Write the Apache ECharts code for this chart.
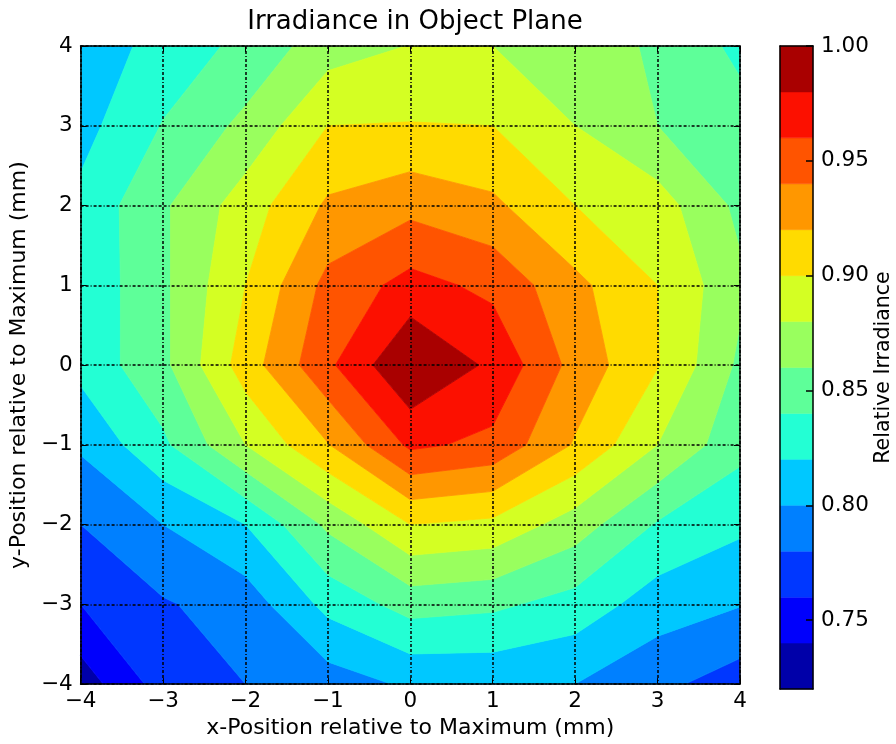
<!DOCTYPE html>
<html>
<head>
<meta charset="utf-8">
<script src="https://cdn.jsdelivr.net/npm/echarts@6/dist/echarts.min.js"></script>
<style>
html,body{margin:0;padding:0;background:#fff;}
#chart{width:896px;height:744px;}
</style>
</head>
<body>
<div id="chart"></div>
<script>
// ---- data ----
const X_VALUES = [-4, -3, -2, -1, 0, 1, 2, 3, 4];
const Y_VALUES = [4, 3, 2, 1, 0, -1, -2, -3, -4];
// relative irradiance, one row per y value (x from -4 to 4)
const Z_Y4  = [0.806, 0.828, 0.845, 0.871, 0.8805, 0.880, 0.870, 0.857, 0.835];
const Z_Y3  = [0.813, 0.841, 0.865, 0.900, 0.901, 0.900, 0.880, 0.860, 0.848];
const Z_Y2  = [0.825, 0.857, 0.890, 0.923, 0.934, 0.924, 0.900, 0.889, 0.855];
const Z_Y1  = [0.825, 0.856, 0.900, 0.946, 0.967, 0.955, 0.925, 0.900, 0.864];
const Z_Y0  = [0.826, 0.855, 0.910, 0.956, 1.000, 0.976, 0.933, 0.901, 0.856];
const Z_YM1 = [0.803, 0.836, 0.880, 0.919, 0.964, 0.955, 0.918, 0.880, 0.846];
const Z_YM2 = [0.780, 0.800, 0.820, 0.864, 0.900, 0.895, 0.870, 0.838, 0.824];
const Z_YM3 = [0.760, 0.778, 0.789, 0.826, 0.848, 0.844, 0.832, 0.810, 0.801];
const Z_YM4 = [0.729, 0.769, 0.780, 0.790, 0.803, 0.804, 0.800, 0.785, 0.770];
const LEVELS = [0.72, 0.74, 0.76, 0.78, 0.80, 0.82, 0.84, 0.86, 0.88, 0.90, 0.92, 0.94, 0.96, 0.98, 1.00];
const CBAR_TICKS = [0.75, 0.80, 0.85, 0.90, 0.95, 1.00];

const Z_ROWS = [Z_Y4, Z_Y3, Z_Y2, Z_Y1, Z_Y0, Z_YM1, Z_YM2, Z_YM3, Z_YM4];

// ---- jet colormap ----
function interp(pts, t) {
  for (let i = 1; i < pts.length; i++) {
    if (t <= pts[i][0]) {
      const a = pts[i - 1], b = pts[i];
      return a[1] + (b[1] - a[1]) * (t - a[0]) / (b[0] - a[0]);
    }
  }
  return pts[pts.length - 1][1];
}
function jet(t) {
  const r = interp([[0,0],[0.35,0],[0.66,1],[0.89,1],[1,0.5]], t);
  const g = interp([[0,0],[0.125,0],[0.375,1],[0.64,1],[0.91,0],[1,0]], t);
  const b = interp([[0,0.5],[0.11,1],[0.34,1],[0.65,0],[1,0]], t);
  const h = v => Math.round(Math.max(0, Math.min(1, v)) * 255).toString(16).padStart(2, '0');
  return '#' + h(r) + h(g) + h(b);
}
const NB = LEVELS.length - 1;
const BAND_COLORS = [];
for (let k = 0; k < NB; k++) BAND_COLORS.push(jet((k + 0.5) / NB));

// ---- cells of the grid ----
const cells = [];
for (let j = 0; j < Y_VALUES.length - 1; j++) {
  for (let i = 0; i < X_VALUES.length - 1; i++) {
    const yTop = Y_VALUES[j], yBot = Y_VALUES[j + 1];
    cells.push([X_VALUES[i], yBot, X_VALUES[i + 1], yTop,
      Z_ROWS[j + 1][i], Z_ROWS[j + 1][i + 1], Z_ROWS[j][i + 1], Z_ROWS[j][i]]);
  }
}

function clip(poly, level, keepAbove) {
  const out = [];
  const inside = p => keepAbove ? p[2] >= level : p[2] <= level;
  for (let i = 0; i < poly.length; i++) {
    const S = poly[(i + poly.length - 1) % poly.length], E = poly[i];
    const si = inside(S), ei = inside(E);
    const cross = () => {
      const t = (level - S[2]) / (E[2] - S[2]);
      return [S[0] + t * (E[0] - S[0]), S[1] + t * (E[1] - S[1]), level];
    };
    if (ei) {
      if (!si) out.push(cross());
      out.push(E);
    } else if (si) {
      out.push(cross());
    }
  }
  return out;
}

function renderCell(params, api) {
  const x0 = api.value(0), y0 = api.value(1), x1 = api.value(2), y1 = api.value(3);
  const poly = [[x0, y0, api.value(4)], [x1, y0, api.value(5)], [x1, y1, api.value(6)], [x0, y1, api.value(7)]];
  const children = [];
  for (let k = 0; k < NB; k++) {
    let p = poly;
    if (k > 0) p = clip(p, LEVELS[k], true);
    if (p.length < 3) continue;
    if (k < NB - 1) p = clip(p, LEVELS[k + 1], false);
    if (p.length < 3) continue;
    children.push({
      type: 'polygon',
      shape: { points: p.map(q => api.coord([q[0], q[1]])) },
      style: { fill: BAND_COLORS[k], stroke: BAND_COLORS[k], lineWidth: 0.8 }
    });
  }
  return { type: 'group', children };
}

const bandData = [];
for (let k = 0; k < NB; k++) bandData.push([0, LEVELS[k], 1, LEVELS[k + 1], k]);

function renderBand(params, api) {
  const p0 = api.coord([api.value(0), api.value(1)]);
  const p1 = api.coord([api.value(2), api.value(3)]);
  const k = api.value(4);
  return {
    type: 'rect',
    shape: { x: p0[0], y: p1[1], width: p1[0] - p0[0], height: p0[1] - p1[1] },
    style: { fill: BAND_COLORS[k], stroke: BAND_COLORS[k], lineWidth: 0.5 }
  };
}

const FONT = 'DejaVu Sans';
const minus = v => String(v).replace('-', '\u2212');
const black = { color: '#000', width: 1.5 };
const gridLine = { show: true, lineStyle: { color: '#000', width: 1.5, type: [3, 2, 3, 2, 1, 2] } };

const chart = echarts.init(document.getElementById('chart'), null, { renderer: 'canvas' });
chart.setOption({
  animation: false,
  backgroundColor: '#ffffff',
  textStyle: { fontFamily: FONT, color: '#000' },
  title: {
    text: 'Irradiance in Object Plane',
    left: 410, top: 4, textAlign: 'center',
    textStyle: { fontFamily: FONT, fontSize: 26, fontWeight: 'normal', color: '#000' }
  },
  grid: [
    { left: 80, top: 46, width: 660, height: 642 },
    { left: 780, top: 46, width: 33, height: 643 }
  ],
  xAxis: [
    { gridIndex: 0, type: 'value', min: -4, max: 4, interval: 1, position: 'bottom', z: 10,
      axisLine: { show: true, onZero: false, lineStyle: black },
      axisTick: { show: true, inside: true, length: 6, lineStyle: { color: '#000', width: 1 } },
      axisLabel: { formatter: minus, fontSize: 21.5, color: '#000', fontFamily: FONT, margin: 6 },
      splitLine: gridLine,
      name: 'x-Position relative to Maximum (mm)', nameLocation: 'middle', nameGap: 24,
      nameTextStyle: { fontSize: 22, color: '#000', fontFamily: FONT } },
    { gridIndex: 0, type: 'value', min: -4, max: 4, interval: 1, position: 'top', z: 10,
      axisLine: { show: true, onZero: false, lineStyle: black },
      axisTick: { show: true, inside: true, length: 6, lineStyle: { color: '#000', width: 1 } },
      axisLabel: { show: false }, splitLine: { show: false } },
    { gridIndex: 1, type: 'value', min: 0, max: 1, position: 'bottom', z: 10,
      axisLine: { show: true, onZero: false, lineStyle: black },
      axisTick: { show: false }, axisLabel: { show: false }, splitLine: { show: false } },
    { gridIndex: 1, type: 'value', min: 0, max: 1, position: 'top', z: 10,
      axisLine: { show: true, onZero: false, lineStyle: black },
      axisTick: { show: false }, axisLabel: { show: false }, splitLine: { show: false } }
  ],
  yAxis: [
    { gridIndex: 0, type: 'value', min: -4, max: 4, interval: 1, position: 'left', z: 10,
      axisLine: { show: true, onZero: false, lineStyle: black },
      axisTick: { show: true, inside: true, length: 6, lineStyle: { color: '#000', width: 1 } },
      axisLabel: { formatter: minus, fontSize: 21.5, color: '#000', fontFamily: FONT, margin: 8 },
      splitLine: gridLine,
      name: 'y-Position relative to Maximum (mm)', nameLocation: 'middle', nameGap: 46, nameRotate: 90,
      nameTextStyle: { fontSize: 22, color: '#000', fontFamily: FONT } },
    { gridIndex: 0, type: 'value', min: -4, max: 4, interval: 1, position: 'right', z: 10,
      axisLine: { show: true, onZero: false, lineStyle: black },
      axisTick: { show: true, inside: true, length: 6, lineStyle: { color: '#000', width: 1 } },
      axisLabel: { show: false }, splitLine: { show: false } },
    { gridIndex: 1, type: 'value', min: LEVELS[0], max: LEVELS[LEVELS.length - 1], position: 'right', z: 10,
      axisLine: { show: true, onZero: false, lineStyle: black },
      axisTick: { show: true, inside: true, length: 7, customValues: CBAR_TICKS, lineStyle: { color: '#000', width: 1.5 } },
      axisLabel: { customValues: CBAR_TICKS, formatter: v => v.toFixed(2), fontSize: 21.5, color: '#000', fontFamily: FONT, margin: 8 },
      splitLine: { show: false },
      name: 'Relative Irradiance', nameLocation: 'middle', nameGap: 58, nameRotate: 90,
      nameTextStyle: { fontSize: 20.5, color: '#000', fontFamily: FONT } },
    { gridIndex: 1, type: 'value', min: LEVELS[0], max: LEVELS[LEVELS.length - 1], position: 'left', z: 10,
      axisLine: { show: true, onZero: false, lineStyle: black },
      axisTick: { show: false }, axisLabel: { show: false }, splitLine: { show: false } }
  ],
  series: [
    { type: 'custom', name: 'irradiance', xAxisIndex: 0, yAxisIndex: 0, z: 1, silent: true,
      renderItem: renderCell, data: cells, encode: { x: [0, 2], y: [1, 3] } },
    { type: 'custom', name: 'colorbar', xAxisIndex: 2, yAxisIndex: 2, z: 1, silent: true,
      renderItem: renderBand, data: bandData, encode: { x: [0, 2], y: [1, 3] } }
  ]
});
</script>
</body>
</html>
